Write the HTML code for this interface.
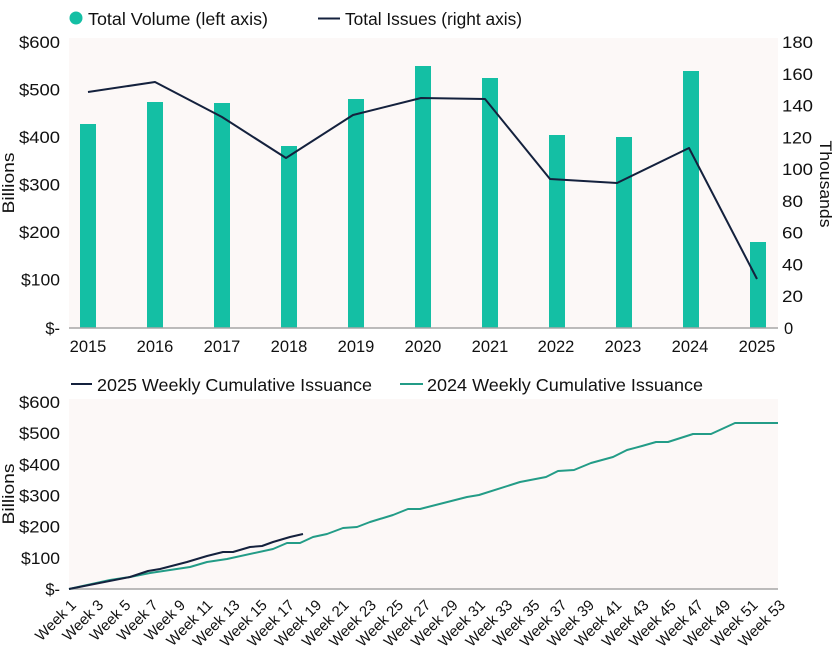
<!DOCTYPE html>
<html>
<head>
<meta charset="utf-8">
<style>
  html,body{margin:0;padding:0;background:#ffffff;}
  svg{display:block;}
  text{font-family:"Liberation Sans", sans-serif; fill:#111;}
</style>
</head>
<body>
<svg width="836" height="647" viewBox="0 0 836 647" xmlns="http://www.w3.org/2000/svg">
  <rect x="0" y="0" width="836" height="647" fill="#ffffff"/>

  <!-- ===== TOP CHART ===== -->
  <circle cx="76" cy="18" r="6.5" fill="#14bfa4"/>
  <text x="88" y="25" font-size="17.5" textLength="180" lengthAdjust="spacingAndGlyphs">Total Volume (left axis)</text>
  <line x1="318" y1="18.5" x2="340" y2="18.5" stroke="#14213d" stroke-width="2"/>
  <text x="345" y="25" font-size="17.5" textLength="177" lengthAdjust="spacingAndGlyphs">Total Issues (right axis)</text>

  <rect x="69" y="38" width="709" height="290" fill="#fcf8f7"/>

  <g fill="#14bfa4">
    <rect x="80" y="124" width="16" height="204"/>
    <rect x="147" y="102" width="16" height="226"/>
    <rect x="214" y="103" width="16" height="225"/>
    <rect x="281" y="146" width="16" height="182"/>
    <rect x="348" y="99" width="16" height="229"/>
    <rect x="415" y="66" width="16" height="262"/>
    <rect x="482" y="78" width="16" height="250"/>
    <rect x="549" y="135" width="16" height="193"/>
    <rect x="616" y="137" width="16" height="191"/>
    <rect x="683" y="71" width="16" height="257"/>
    <rect x="750" y="242" width="16" height="86"/>
  </g>

  <line x1="69" y1="328" x2="778" y2="328" stroke="#a6a6a6" stroke-width="1.5"/>

  <polyline fill="none" stroke="#14213d" stroke-width="2" stroke-linejoin="round"
    points="88,92 155,82 222,117 286,158 353,115 421,98 485,99 550,179 617,183 689,148 757,279"/>

  <g font-size="16.5" text-anchor="end">
    <text x="60" y="48" textLength="41" lengthAdjust="spacingAndGlyphs">$600</text>
    <text x="60" y="95.5" textLength="41" lengthAdjust="spacingAndGlyphs">$500</text>
    <text x="60" y="143" textLength="41" lengthAdjust="spacingAndGlyphs">$400</text>
    <text x="60" y="190.5" textLength="41" lengthAdjust="spacingAndGlyphs">$300</text>
    <text x="60" y="238" textLength="41" lengthAdjust="spacingAndGlyphs">$200</text>
    <text x="60" y="285.5" textLength="39" lengthAdjust="spacingAndGlyphs">$100</text>
    <text x="60" y="334">$-</text>
  </g>

  <g font-size="16.5">
    <text x="782" y="48" textLength="31" lengthAdjust="spacingAndGlyphs">180</text>
    <text x="782" y="79.8" textLength="31" lengthAdjust="spacingAndGlyphs">160</text>
    <text x="782" y="111.5" textLength="31" lengthAdjust="spacingAndGlyphs">140</text>
    <text x="782" y="143.3" textLength="30" lengthAdjust="spacingAndGlyphs">120</text>
    <text x="782" y="175" textLength="31" lengthAdjust="spacingAndGlyphs">100</text>
    <text x="782" y="206.8" textLength="21" lengthAdjust="spacingAndGlyphs">80</text>
    <text x="782" y="238.5" textLength="21" lengthAdjust="spacingAndGlyphs">60</text>
    <text x="782" y="270.3" textLength="21" lengthAdjust="spacingAndGlyphs">40</text>
    <text x="782" y="302" textLength="21" lengthAdjust="spacingAndGlyphs">20</text>
    <text x="784" y="334">0</text>
  </g>

  <g font-size="16.5" text-anchor="middle">
    <text x="88" y="352">2015</text>
    <text x="155" y="352">2016</text>
    <text x="222" y="352">2017</text>
    <text x="289" y="352">2018</text>
    <text x="356" y="352">2019</text>
    <text x="423" y="352">2020</text>
    <text x="490" y="352">2021</text>
    <text x="556" y="352">2022</text>
    <text x="623" y="352">2023</text>
    <text x="690" y="352">2024</text>
    <text x="757" y="352">2025</text>
  </g>

  <text transform="translate(14,183) rotate(-90)" font-size="17" text-anchor="middle" textLength="61" lengthAdjust="spacingAndGlyphs">Billions</text>
  <text transform="translate(820,184) rotate(90)" font-size="17" text-anchor="middle" textLength="87" lengthAdjust="spacingAndGlyphs">Thousands</text>

  <!-- ===== BOTTOM CHART ===== -->
  <line x1="71" y1="384" x2="92" y2="384" stroke="#14213d" stroke-width="2"/>
  <text x="97" y="391" font-size="17.5" textLength="275" lengthAdjust="spacingAndGlyphs">2025 Weekly Cumulative Issuance</text>
  <line x1="400" y1="384" x2="423" y2="384" stroke="#239c87" stroke-width="2"/>
  <text x="427" y="391" font-size="17.5" textLength="276" lengthAdjust="spacingAndGlyphs">2024 Weekly Cumulative Issuance</text>

  <rect x="69" y="399" width="709" height="190" fill="#fcf8f7"/>
  <line x1="69" y1="589" x2="778" y2="589" stroke="#a6a6a6" stroke-width="1.5"/>

  <polyline fill="none" stroke="#239c87" stroke-width="2" stroke-linejoin="round"
    points="69,589 110,580 130,577 150,573 190,567 207,562 227,559 273,549 287,543 300,543 313,537 327,534 343,528 357,527 370,522 393,515 408,509 420,509 467,497 479,495 520,482 546,477 558,471 574,470 591,463 613,457 627,450 642,446 656,442 668,442 693,434 711,434 735,423 778,423"/>
  <polyline fill="none" stroke="#14213d" stroke-width="2" stroke-linejoin="round"
    points="69,589 130,577 148,571 160,569 187,562 207,556 223,552 233,552 250,547 262,546 273,542 290,537 303,534"/>

  <g font-size="16.5" text-anchor="end">
    <text x="60" y="408" textLength="41" lengthAdjust="spacingAndGlyphs">$600</text>
    <text x="60" y="439.2" textLength="41" lengthAdjust="spacingAndGlyphs">$500</text>
    <text x="60" y="470.3" textLength="41" lengthAdjust="spacingAndGlyphs">$400</text>
    <text x="60" y="501.5" textLength="41" lengthAdjust="spacingAndGlyphs">$300</text>
    <text x="60" y="532.7" textLength="41" lengthAdjust="spacingAndGlyphs">$200</text>
    <text x="60" y="563.8" textLength="39" lengthAdjust="spacingAndGlyphs">$100</text>
    <text x="60" y="595">$-</text>
  </g>

  <text transform="translate(14,494) rotate(-90)" font-size="17" text-anchor="middle" textLength="61" lengthAdjust="spacingAndGlyphs">Billions</text>

  <g font-size="15" text-anchor="end">
    <text transform="translate(77,606) rotate(-45)">Week 1</text>
    <text transform="translate(104.3,606) rotate(-45)">Week 3</text>
    <text transform="translate(131.5,606) rotate(-45)">Week 5</text>
    <text transform="translate(158.8,606) rotate(-45)">Week 7</text>
    <text transform="translate(186.1,606) rotate(-45)">Week 9</text>
    <text transform="translate(213.4,606) rotate(-45)">Week 11</text>
    <text transform="translate(240.6,606) rotate(-45)">Week 13</text>
    <text transform="translate(267.9,606) rotate(-45)">Week 15</text>
    <text transform="translate(295.2,606) rotate(-45)">Week 17</text>
    <text transform="translate(322.4,606) rotate(-45)">Week 19</text>
    <text transform="translate(349.7,606) rotate(-45)">Week 21</text>
    <text transform="translate(377,606) rotate(-45)">Week 23</text>
    <text transform="translate(404.2,606) rotate(-45)">Week 25</text>
    <text transform="translate(431.5,606) rotate(-45)">Week 27</text>
    <text transform="translate(458.8,606) rotate(-45)">Week 29</text>
    <text transform="translate(486,606) rotate(-45)">Week 31</text>
    <text transform="translate(513.3,606) rotate(-45)">Week 33</text>
    <text transform="translate(540.6,606) rotate(-45)">Week 35</text>
    <text transform="translate(567.8,606) rotate(-45)">Week 37</text>
    <text transform="translate(595.1,606) rotate(-45)">Week 39</text>
    <text transform="translate(622.4,606) rotate(-45)">Week 41</text>
    <text transform="translate(649.6,606) rotate(-45)">Week 43</text>
    <text transform="translate(676.9,606) rotate(-45)">Week 45</text>
    <text transform="translate(704.2,606) rotate(-45)">Week 47</text>
    <text transform="translate(731.4,606) rotate(-45)">Week 49</text>
    <text transform="translate(758.7,606) rotate(-45)">Week 51</text>
    <text transform="translate(786,606) rotate(-45)">Week 53</text>
  </g>
</svg>
</body>
</html>
